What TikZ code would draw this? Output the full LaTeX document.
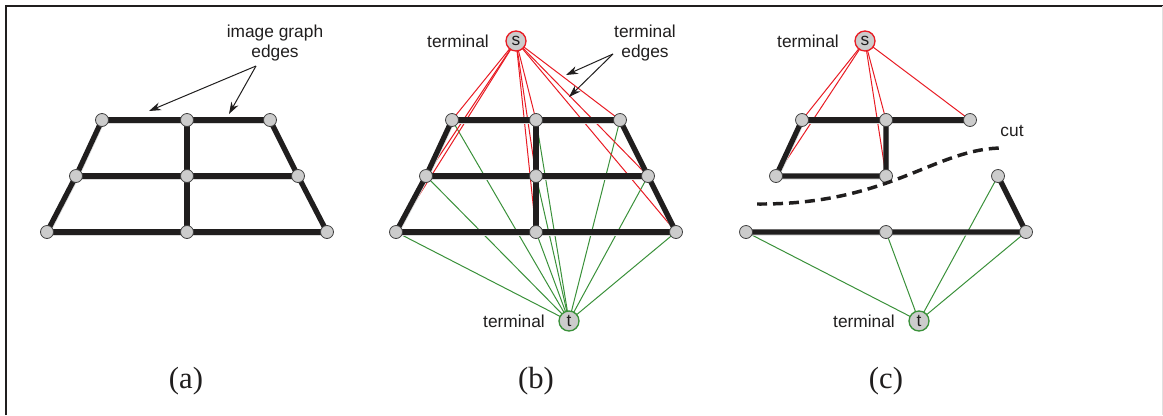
\documentclass[tikz,border=0pt]{standalone}
\usepackage{fontspec}
\setmainfont{Liberation Serif}
\setsansfont{Liberation Sans}
\usetikzlibrary{arrows.meta}
\pgfdeclarelayer{bg}
\pgfdeclarelayer{mid}
\pgfsetlayers{bg,mid,main}
\definecolor{tred}{RGB}{232,28,36}
\definecolor{tgreen}{RGB}{58,145,58}
\definecolor{ink}{RGB}{32,30,30}
\begin{document}
\begin{tikzpicture}[x=0.75pt,y=-0.75pt,
  vtx/.style={circle,fill=gray!40,draw=black!75,line width=0.6pt,minimum size=9.75pt,inner sep=0pt},
  term/.style={circle,fill=gray!40,line width=1pt,minimum size=15pt,inner sep=0pt,font=\sffamily\fontsize{13}{13}\selectfont,text=ink},
  sterm/.style={term,draw=tred},
  tterm/.style={term,draw=tgreen},
  gridedge/.style={line width=3.9pt,draw=ink,preaction={draw=black!15,line width=3.9pt,transform canvas={shift={(0.3pt,-0.8pt)}}}},
  redge/.style={draw=tred,line width=0.75pt},
  gedge/.style={draw=tgreen,line width=0.75pt},
  lbl/.style={font=\sffamily\fontsize{13}{15}\selectfont,text=ink,align=center,inner sep=0pt},
  panelname/.style={font=\fontsize{23}{23}\selectfont,text=ink,inner sep=0pt},
  ptr/.style={-{Stealth[length=9pt,width=6pt]},line width=0.75pt,draw=ink}
]
\useasboundingbox (0,0) rectangle (1163,415);
% frame
\draw[ink,line width=1.5pt] (6,415) -- (6,6) -- (1163,6);
\draw[black!12,line width=0.75pt] (1162,6) -- (1162,415);

% ---------- panel (a) ----------
\node[vtx] (aTL) at (102,120) {};
\node[vtx] (aTM) at (187,120) {};
\node[vtx] (aTR) at (270,120) {};
\node[vtx] (aML) at (76,176) {};
\node[vtx] (aMM) at (187,176) {};
\node[vtx] (aMR) at (298,176) {};
\node[vtx] (aBL) at (47,232) {};
\node[vtx] (aBM) at (187,232) {};
\node[vtx] (aBR) at (327,232) {};
\begin{pgfonlayer}{mid}
\draw[gridedge] (aTL.center) -- (aTM.center) -- (aTR.center);
\draw[gridedge] (aML.center) -- (aMM.center) -- (aMR.center);
\draw[gridedge] (aBL.center) -- (aBM.center) -- (aBR.center);
\draw[gridedge] (aTL.center) -- (aML.center) -- (aBL.center);
\draw[gridedge] (aTR.center) -- (aMR.center) -- (aBR.center);
\draw[gridedge] (aTM.center) -- (aMM.center) -- (aBM.center);
\end{pgfonlayer}
\node[lbl] (aLbl) at (275,43) {image graph\\edges};
\coordinate (aTail) at (256,66);
\coordinate (aHead1) at (149,111);
\coordinate (aHead2) at (229,114);
\draw[ptr] (aTail) -- (aHead1);
\draw[ptr] (aTail) -- (aHead2);
\node[panelname] (aName) at (186,381) {(a)};

% ---------- panel (b) ----------
\node[vtx] (bTL) at (452,120) {};
\node[vtx] (bTM) at (536,120) {};
\node[vtx] (bTR) at (620,120) {};
\node[vtx] (bML) at (426,176) {};
\node[vtx] (bMM) at (536,176) {};
\node[vtx] (bMR) at (648,176) {};
\node[vtx] (bBL) at (396,232) {};
\node[vtx] (bBM) at (536,232) {};
\node[vtx] (bBR) at (676,232) {};
\node[sterm] (bs) at (516,41) {s};
\node[tterm] (bt) at (569,321) {t};
\node[lbl] (bsLbl) at (458,41) {terminal};
\node[lbl] (btLbl) at (514,321) {terminal};
\begin{pgfonlayer}{mid}
\draw[gridedge] (bTL.center) -- (bTM.center) -- (bTR.center);
\draw[gridedge] (bML.center) -- (bMM.center) -- (bMR.center);
\draw[gridedge] (bBL.center) -- (bBM.center) -- (bBR.center);
\draw[gridedge] (bTL.center) -- (bML.center) -- (bBL.center);
\draw[gridedge] (bTR.center) -- (bMR.center) -- (bBR.center);
\draw[gridedge] (bTM.center) -- (bMM.center) -- (bBM.center);
\end{pgfonlayer}
\begin{pgfonlayer}{bg}
\foreach \v in {bTL,bTM,bTR,bML,bMM,bMR,bBL,bBM,bBR}{
  \draw[gedge] (bt.center) -- (\v.center);
}
\foreach \v in {bTL,bTM,bTR,bML,bMM,bMR,bBL,bBM,bBR}{
  \draw[redge] (bs.center) -- (\v.center);
}
\end{pgfonlayer}
\node[lbl] (bLbl) at (645,43) {terminal\\edges};
\coordinate (bTail) at (613,54);
\coordinate (bHead1) at (566,75);
\coordinate (bHead2) at (569,97);
\draw[ptr] (bTail) -- (bHead1);
\draw[ptr] (bTail) -- (bHead2);
\node[panelname] (bName) at (536,381) {(b)};

% ---------- panel (c) ----------
\node[vtx] (cTL) at (802,120) {};
\node[vtx] (cTM) at (886,120) {};
\node[vtx] (cTR) at (970,120) {};
\node[vtx] (cML) at (776,176) {};
\node[vtx] (cMM) at (886,176) {};
\node[vtx] (cMR) at (998,176) {};
\node[vtx] (cBL) at (746,232) {};
\node[vtx] (cBM) at (886,232) {};
\node[vtx] (cBR) at (1026,232) {};
\node[sterm] (cs) at (865,41) {s};
\node[tterm] (ct) at (919,321) {t};
\node[lbl] (csLbl) at (808,41) {terminal};
\node[lbl] (ctLbl) at (864,321) {terminal};
\begin{pgfonlayer}{mid}
\draw[gridedge] (cTL.center) -- (cTM.center) -- (cTR.center);
\draw[gridedge] (cTL.center) -- (cML.center) -- (cMM.center) -- (cTM.center);
\draw[gridedge] (cBL.center) -- (cBM.center) -- (cBR.center) -- (cMR.center);
\end{pgfonlayer}
\begin{pgfonlayer}{bg}
\foreach \v in {cBL,cBM,cMR,cBR}{
  \draw[gedge] (ct.center) -- (\v.center);
}
\foreach \v in {cTL,cML,cTM,cMM,cTR}{
  \draw[redge] (cs.center) -- (\v.center);
}
\end{pgfonlayer}
\coordinate (cutA) at (757,204);
\coordinate (cutB) at (1003,148);
\draw[ink,line width=2.6pt,dash pattern=on 7.5pt off 4.5pt] (cutA) .. controls (890,205) and (935,148) .. (cutB);
\node[lbl] (cutLbl) at (1012,131) {cut};
\node[panelname] (cName) at (886,381) {(c)};
\end{tikzpicture}
\end{document}
